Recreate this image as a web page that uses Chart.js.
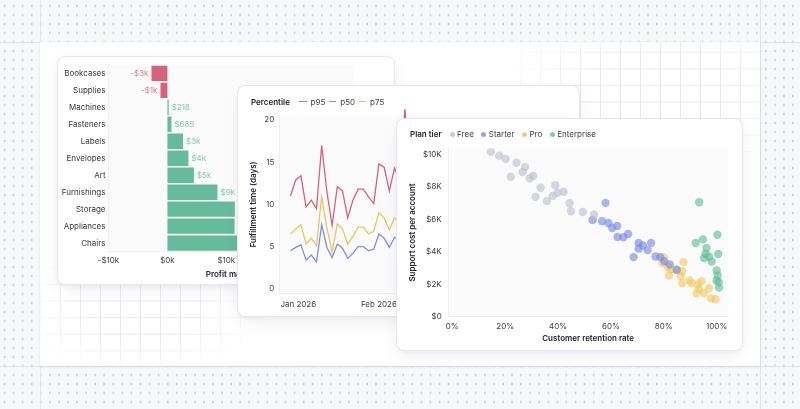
<!DOCTYPE html>
<html lang="en">
<head>
<meta charset="UTF-8">
<title>Chart cards</title>
<script src="https://cdn.jsdelivr.net/npm/chart.js@4.4.1/dist/chart.umd.min.js"></script>
<style>
  html, body { margin: 0; padding: 0; }
  body {
    width: 800px; height: 409px; overflow: hidden; position: relative;
    background-color: #f7f8fa;
    background-image: radial-gradient(circle, #c4c7d2 0.8px, transparent 1.3px);
    background-size: 9.07px 9px;
    background-position: 0 1.5px;
    font-family: Inter, 'Noto Sans', sans-serif;
    color: #2b2b38;
  }
  .hline { position: absolute; left: 0; width: 800px; height: 1px; background: #e3e3ed; }
  .vline { position: absolute; top: 0; width: 1px; height: 409px; background: #e3e3ed; }
  .panel {
    position: absolute; left: 40px; top: 42px; width: 720px; height: 324px;
    background: #fff; box-shadow: 0 1px 3px rgba(30, 30, 70, 0.07);
  }
  /* two faded grid patches: top right and bottom left */
  .grid {
    position: absolute; inset: 0;
    background-image:
      linear-gradient(to right, #e9e9f1 1px, transparent 1px),
      linear-gradient(to bottom, #e9e9f1 1px, transparent 1px);
    background-size: 20px 16.6px;
    background-position: 0 9.7px;
    -webkit-mask-image:
      radial-gradient(ellipse 165px 95px at 620px 48px, #000 45%, transparent 100%),
      radial-gradient(ellipse 125px 68px at 100px 268px, #000 45%, transparent 100%);
    mask-image:
      radial-gradient(ellipse 165px 95px at 620px 48px, #000 45%, transparent 100%),
      radial-gradient(ellipse 125px 68px at 100px 268px, #000 45%, transparent 100%);
  }
  .card {
    position: absolute; background: #fff; border-radius: 7px;
    box-shadow: 0 0 0 1px #e7e7ef, 0 2px 5px rgba(20, 20, 60, 0.06), 0 6px 18px rgba(20, 20, 60, 0.06);
  }
  .card .wrap { position: absolute; left: 0; top: 0; width: 100%; height: 100%; }
  .legend {
    position: absolute; left: 13px; height: 10px;
    display: flex; align-items: center; font-size: 8px; white-space: nowrap; color: #3a3a48;
  }
  .legend b { font-weight: 600; color: #22222c; }
  .dash { display: inline-block; width: 7.3px; height: 1.3px; }
  .dot { display: inline-block; width: 5px; height: 5px; border-radius: 50%; }
</style>
</head>
<body>
  <div class="hline" style="top:42px"></div>
  <div class="hline" style="top:366px"></div>
  <div class="vline" style="left:40px"></div>
  <div class="vline" style="left:760px"></div>

  <div class="panel"><div class="grid"></div></div>

  <div class="card" style="left:58px; top:57px; width:336px; height:227px;">
    <div class="wrap"><canvas id="barChart"></canvas></div>
  </div>

  <div class="card" style="left:238px; top:86px; width:341px; height:230px;">
    <div class="wrap"><canvas id="lineChart"></canvas></div>
    <div class="legend" style="top:10.7px">
      <b>Percentile</b>
      <span class="dash" style="background:#d9607c; margin-left:9.4px"></span><span style="margin-left:4px">p95</span>
      <span class="dash" style="background:#7f8ee8; margin-left:3.7px"></span><span style="margin-left:4px">p50</span>
      <span class="dash" style="background:#f0c35a; margin-left:3.7px"></span><span style="margin-left:4px">p75</span>
    </div>
  </div>

  <div class="card" style="left:397px; top:119px; width:345px; height:231px;">
    <div class="wrap"><canvas id="scatterChart"></canvas></div>
    <div class="legend" style="top:10.3px">
      <b>Plan tier</b>
      <span class="dot" style="background:#c9cbd3; margin-left:8px"></span><span style="margin-left:2.5px">Free</span>
      <span class="dot" style="background:#98a3ea; margin-left:7.5px"></span><span style="margin-left:2.5px">Starter</span>
      <span class="dot" style="background:#f3cf7a; margin-left:7.5px"></span><span style="margin-left:2.5px">Pro</span>
      <span class="dot" style="background:#7fcbaa; margin-left:7.5px"></span><span style="margin-left:2.5px">Enterprise</span>
    </div>
  </div>

<script>
// --- bar chart: profit by sub-category ---
const categories = ['Bookcases', 'Supplies', 'Machines', 'Fasteners', 'Labels', 'Envelopes', 'Art', 'Furnishings', 'Storage', 'Appliances', 'Chairs'];
const profit = [-2700, -1180, 218, 685, 2650, 3570, 4500, 8500, 11450, 11400, 15000];
const profitTicks = [-10000, 0, 10000, 20000, 30000];

// --- line chart: fulfillment time percentiles (days since Jan 1 2026) ---
const days = [-3, -1, 1, 3, 5, 7, 9, 11, 13, 15, 17, 19, 21, 23, 25, 27, 29, 31, 33, 35, 37, 39, 41, 43, 45, 47, 49, 51];
const p95 = [11.0, 12.9, 13.4, 9.7, 10.5, 9.5, 17.0, 11.5, 7.5, 12.1, 11.6, 8.4, 10.5, 11.8, 11.8, 10.9, 10.1, 14.8, 14.4, 11.6, 14.3, 12.8, 21.3, 13.2, 12.4, 15.1, 11.9, 13.6];
const p50 = [4.5, 4.9, 5.2, 3.4, 4.0, 3.2, 7.6, 4.9, 3.7, 5.3, 4.8, 3.6, 4.2, 5.0, 5.0, 4.5, 4.7, 6.5, 6.0, 4.9, 6.1, 5.8, 9.4, 5.6, 5.1, 6.3, 4.8, 5.5];
const p75 = [6.5, 7.1, 7.6, 5.3, 6.0, 5.1, 10.9, 7.2, 4.4, 7.7, 7.1, 5.3, 6.2, 7.3, 7.3, 6.5, 6.8, 9.0, 8.4, 7.0, 8.4, 8.0, 13.2, 8.1, 7.4, 9.2, 7.0, 8.2];
const dayTicks = [0, 5, 10, 15, 20];
const monthTicks = [0, 31, 59, 90];
const monthLabels = ['Jan 2026', 'Feb 2026', 'Mar 2026', 'Apr 2026'];

// --- scatter: retention (%) vs support cost ($) per plan tier ---
const freeRetention = [14.6, 17.8, 20.2, 24.3, 27.5, 26.6, 22.1, 29.3, 30.6, 33.4, 39.0, 31.5, 35.8, 38.0, 39.8, 42.1, 44.4, 44.9, 49.4, 53.6];
const freeCost = [10160, 9920, 9710, 9480, 9220, 8910, 8620, 8520, 8660, 7940, 8100, 7380, 7130, 7440, 7630, 7690, 6990, 6490, 6450, 6290];
const starterRetention = [58.0, 53.1, 56.7, 59.1, 60.5, 62.4, 62.5, 64.7, 66.5, 70.5, 70.5, 72.1, 73.9, 75.2, 68.6, 76.9, 78.7, 82.3, 84.9, 80.2];
const starterCost = [7010, 5960, 5880, 5770, 5460, 5590, 4910, 4890, 5090, 4540, 4190, 4390, 4100, 4540, 3670, 3710, 3670, 3220, 2890, 3420];
const proRetention = [80.0, 79.4, 81.6, 82.7, 82.0, 84.9, 87.5, 87.0, 86.4, 87.0, 89.8, 90.5, 93.1, 94.3, 93.3, 92.4, 95.3, 97.1, 97.9, 99.6];
const proCost = [3670, 3300, 3050, 2910, 2540, 2870, 3360, 2800, 2490, 2060, 2230, 2060, 1980, 2190, 1710, 1440, 1440, 1750, 1130, 1070];
const entRetention = [93.4, 92.1, 94.8, 100.3, 96.2, 95.8, 95.3, 97.1, 100.6, 98.1, 100.0, 100.4, 100.0, 100.8, 100.9];
const entCost = [7050, 4540, 4760, 5050, 4230, 3880, 3610, 3710, 3860, 3400, 2850, 2540, 2230, 2120, 1790];
const retentionTicks = [0, 20, 40, 60, 80, 100];
const costTicks = [0, 2000, 4000, 6000, 8000, 10000];

Chart.defaults.font.family = 'Inter, "Noto Sans", sans-serif';
Chart.defaults.font.size = 8;
Chart.defaults.color = '#3b3b4a';
Chart.defaults.animation = false;
Chart.defaults.plugins.legend.display = false;
Chart.defaults.plugins.tooltip.enabled = false;
Chart.defaults.maintainAspectRatio = false;

const TITLE_FONT = { size: 8, weight: '600' };
const TITLE_COLOR = '#23232e';
const AXIS_LINE = { display: true, color: '#eeeef3', width: 1 };
const NO_GRID = { display: false, drawTicks: false };

// put ticks exactly on the given values
function fixedTicks(values) {
    return s => { s.ticks = values.map(v => ({ value: v })); };
}

// faint plot area fill, like the original
const plotBg = {
    id: 'plotBg',
    beforeDraw(chart) {
        const { ctx, chartArea: a } = chart;
        ctx.save();
        ctx.fillStyle = '#fbfbfc';
        ctx.fillRect(a.left, a.top, a.right - a.left, a.bottom - a.top);
        ctx.restore();
    }
};

function fmtProfit(v) {
    const a = Math.abs(v);
    const s = a < 1000 ? '$' + a : '$' + Math.round(a / 1000) + 'k';
    return (v < 0 ? '-' : '') + s;
}

// value labels at the end of each bar
const barValueLabels = {
    id: 'barValueLabels',
    afterDatasetsDraw(chart) {
        const { ctx } = chart;
        const meta = chart.getDatasetMeta(0);
        ctx.save();
        ctx.font = '8px Inter, "Noto Sans", sans-serif';
        ctx.textBaseline = 'middle';
        meta.data.forEach((bar, i) => {
            const v = profit[i];
            const neg = v < 0;
            ctx.fillStyle = neg ? '#e27b92' : '#7ccbab';
            ctx.textAlign = neg ? 'right' : 'left';
            ctx.fillText(fmtProfit(v), bar.x + (neg ? -3 : 3), bar.y);
        });
        ctx.restore();
    }
};

new Chart(document.getElementById('barChart'), {
    type: 'bar',
    data: {
        labels: categories,
        datasets: [{
            data: profit,
            backgroundColor: profit.map(v => v < 0 ? '#d6637b' : '#67bb9d'),
            barPercentage: 0.9,
            categoryPercentage: 1
        }]
    },
    options: {
        indexAxis: 'y',
        layout: { padding: { top: 6, bottom: 4.2, left: 0, right: 41 } },
        scales: {
            y: {
                grid: NO_GRID,
                border: AXIS_LINE,
                ticks: { padding: 3, color: '#34343f' },
                afterFit: s => { s.width = 50.5; }
            },
            x: {
                min: -10000, max: 31500,
                grid: NO_GRID,
                border: AXIS_LINE,
                afterBuildTicks: fixedTicks(profitTicks),
                ticks: {
                    padding: 4.5, maxRotation: 0, autoSkip: false,
                    callback: v => (v < 0 ? '-' : '') + '$' + Math.abs(v) / 1000 + 'k'
                },
                title: { display: true, text: 'Profit margin', font: TITLE_FONT, color: TITLE_COLOR, padding: 0 },
                afterFit: s => { s.height = 28.1; }
            }
        }
    },
    plugins: [plotBg, barValueLabels]
});

function series(vals) {
    return days.map((d, i) => ({ x: d, y: vals[i] }));
}

new Chart(document.getElementById('lineChart'), {
    type: 'line',
    data: {
        datasets: [
            { label: 'p95', data: series(p95), borderColor: '#d9607c' },
            { label: 'p50', data: series(p50), borderColor: '#7f8ee8' },
            { label: 'p75', data: series(p75), borderColor: '#f0c35a' }
        ]
    },
    options: {
        layout: { padding: { left: 8, top: 29.8, right: 12, bottom: 5 } },
        elements: { line: { borderWidth: 1.3, tension: 0 }, point: { radius: 0 } },
        datasets: { line: { clip: false } },
        scales: {
            x: {
                type: 'linear', min: -7.3, max: 103.3,
                grid: NO_GRID,
                border: AXIS_LINE,
                afterBuildTicks: fixedTicks(monthTicks),
                ticks: { autoSkip: false, maxRotation: 0, padding: 7, callback: (v, i) => monthLabels[i] },
                afterFit: s => { s.height = 18; }
            },
            y: {
                min: -0.5, max: 20.5,
                grid: NO_GRID,
                border: AXIS_LINE,
                afterBuildTicks: fixedTicks(dayTicks),
                ticks: { padding: 5 },
                title: { display: true, text: 'Fulfillment time (days)', font: TITLE_FONT, color: TITLE_COLOR, padding: { top: 3.2, bottom: 0 } },
                afterFit: s => { s.width = 33.3; }
            }
        }
    },
    plugins: [plotBg]
});

function points(xs, ys) {
    return xs.map((x, i) => ({ x: x, y: ys[i] }));
}

new Chart(document.getElementById('scatterChart'), {
    type: 'scatter',
    data: {
        datasets: [
            { label: 'Free', data: points(freeRetention, freeCost), backgroundColor: 'rgba(190,193,204,0.65)' },
            { label: 'Starter', data: points(starterRetention, starterCost), backgroundColor: 'rgba(120,136,226,0.62)' },
            { label: 'Pro', data: points(proRetention, proCost), backgroundColor: 'rgba(242,200,92,0.6)' },
            { label: 'Enterprise', data: points(entRetention, entCost), backgroundColor: 'rgba(92,188,148,0.62)' }
        ]
    },
    options: {
        layout: { padding: { left: 8, top: 29.3, right: 14, bottom: 6.9 } },
        elements: { point: { radius: 4.2, borderWidth: 0 } },
        scales: {
            x: {
                min: -1.5, max: 104.3,
                grid: NO_GRID,
                border: AXIS_LINE,
                afterBuildTicks: fixedTicks(retentionTicks),
                ticks: { padding: 5, maxRotation: 0, autoSkip: false, callback: v => v + '%' },
                title: { display: true, text: 'Customer retention rate', font: TITLE_FONT, color: TITLE_COLOR, padding: 0 },
                afterFit: s => { s.height = 26.4; }
            },
            y: {
                min: 0, max: 10370,
                grid: NO_GRID,
                border: AXIS_LINE,
                afterBuildTicks: fixedTicks(costTicks),
                ticks: { padding: 6.6, callback: v => v === 0 ? '$0' : '$' + v / 1000 + 'K' },
                title: { display: true, text: 'Support cost per account', font: TITLE_FONT, color: TITLE_COLOR, padding: { top: 2.5, bottom: 0 } },
                afterFit: s => { s.width = 43.3; }
            }
        }
    },
    plugins: [plotBg]
});
</script>
</body>
</html>
